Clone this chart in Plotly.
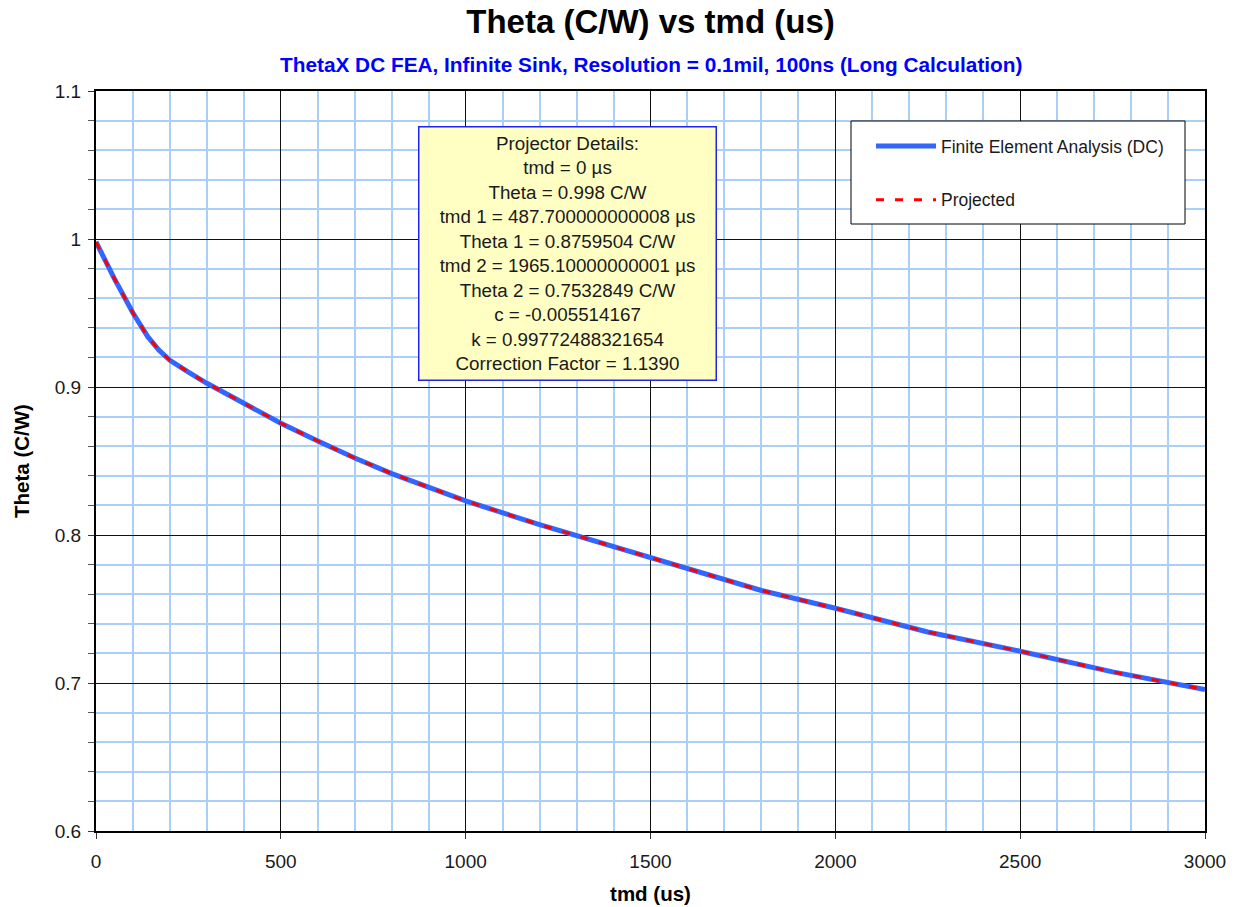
import plotly.graph_objects as go

# Thermal impedance curve: tmd (us) vs Theta (C/W)
tmd_us = [0, 50, 100, 140, 170, 200, 250, 300, 400, 500, 600, 700, 800, 900,
          1000, 1200, 1400, 1600, 1800, 2000, 2250, 2500, 2750, 3000]
theta_fea = [0.998, 0.973, 0.950, 0.934, 0.925, 0.918, 0.910, 0.9025, 0.889,
             0.8755, 0.8635, 0.852, 0.8415, 0.832, 0.823, 0.807, 0.792, 0.777,
             0.7625, 0.7505, 0.7345, 0.7215, 0.7075, 0.6955]
theta_projected = [0.998, 0.973, 0.950, 0.934, 0.925, 0.918, 0.910, 0.9025, 0.889,
                   0.8755, 0.8635, 0.852, 0.8415, 0.832, 0.823, 0.807, 0.792, 0.777,
                   0.7625, 0.7505, 0.7345, 0.7215, 0.7075, 0.6955]

series_names = ["Finite Element Analysis (DC)", "Projected"]

y_tick_labels = ["0.6", "0.7", "0.8", "0.9", "1", "1.1"]

projector_lines = [
    "Projector Details:",
    "tmd = 0 \u00b5s",
    "Theta = 0.998 C/W",
    "tmd 1 = 487.700000000008 \u00b5s",
    "Theta 1 = 0.8759504 C/W",
    "tmd 2 = 1965.10000000001 \u00b5s",
    "Theta 2 = 0.7532849 C/W",
    "c = -0.005514167",
    "k = 0.99772488321654",
    "Correction Factor = 1.1390",
]

FONT = "Liberation Sans, Arial, sans-serif"
W, H = 1237, 907
ML, MR, MT, MB = 96, 32, 91, 76
PW, PH = W - ML - MR, H - MT - MB


def px_x(p):
    return (p - ML) / PW


def px_y(p):
    return (H - MB - p) / PH


# minor grid positions that do not coincide with the major grid
x_minor = [v for v in range(0, 3001, 100) if v % 500 != 0]
y_minor = [round(0.6 + 0.02 * i, 2) for i in range(26) if i % 5 != 0]
y_major = [round(0.6 + 0.1 * i, 1) for i in range(6)]

fig = go.Figure()
fig.add_trace(go.Scatter(
    x=tmd_us, y=theta_fea, mode="lines", name=series_names[0],
    line=dict(color="#3366FF", width=5), legendgroup="a",
))
fig.add_trace(go.Scatter(
    x=tmd_us, y=theta_projected, mode="lines", name=series_names[1],
    line=dict(color="#FF0000", width=3, dash="8px,11px"), legendgroup="b",
))

fig.update_layout(
    width=W, height=H,
    margin=dict(l=ML, r=MR, t=MT, b=MB, autoexpand=False),
    paper_bgcolor="white", plot_bgcolor="white",
    font=dict(family=FONT, color="#1a1a1a"),
    title=dict(
        text="<b>Theta (C/W) vs tmd (us)</b>",
        font=dict(size=33, color="black", family=FONT),
        x=0.5, xref="paper", xanchor="center",
        y=1 - 21 / H, yref="container", yanchor="middle",
    ),
    showlegend=True,
    legend=dict(
        x=px_x(871), y=px_y(128), xanchor="left", yanchor="top",
        bgcolor="rgba(0,0,0,0)", borderwidth=0,
        font=dict(size=17.5, family=FONT, color="#1a1a1a"),
        traceorder="grouped", tracegroupgap=28, itemwidth=60,
    ),
)

fig.update_xaxes(
    range=[0, 3000], dtick=500, tick0=0,
    showgrid=True, gridcolor="#111111", gridwidth=1.2,
    showline=True, linecolor="black", linewidth=2, mirror=True,
    ticks="outside", ticklen=6, tickcolor="#333333",
    tickfont=dict(size=19, family=FONT, color="#1a1a1a"),
    ticklabelstandoff=6,
    zeroline=False,
    minor=dict(tickvals=x_minor, showgrid=True, gridcolor="#AAD0F8", gridwidth=1.5, ticks=""),
    title=dict(text="<b>tmd (us)</b>", font=dict(size=20.5, family=FONT, color="black"), standoff=16),
)
fig.update_yaxes(
    range=[0.6, 1.1],
    tickvals=y_major, ticktext=y_tick_labels,
    showgrid=True, gridcolor="#111111", gridwidth=1.2,
    showline=True, linecolor="black", linewidth=2, mirror=True,
    ticks="outside", ticklen=6, tickcolor="#333333",
    tickfont=dict(size=19, family=FONT, color="#1a1a1a"),
    ticklabelstandoff=3,
    zeroline=False,
    minor=dict(tickvals=y_minor, showgrid=True, gridcolor="#AAD0F8", gridwidth=1.5,
               ticks="outside", ticklen=6, tickcolor="#555555"),
    title=dict(text="<b>Theta (C/W)</b>", font=dict(size=20.5, family=FONT, color="black"), standoff=20),
)

# Subtitle
fig.add_annotation(
    text="<b>ThetaX DC FEA, Infinite Sink, Resolution = 0.1mil, 100ns (Long Calculation)</b>",
    xref="paper", yref="paper", x=0.5, y=px_y(64), xanchor="center", yanchor="middle",
    showarrow=False, font=dict(size=20.8, family=FONT, color="#0000FF"),
)

# Legend frame
fig.add_shape(
    type="rect", xref="paper", yref="paper",
    x0=px_x(851), x1=px_x(1185), y0=px_y(224), y1=px_y(121),
    line=dict(color="black", width=1), fillcolor="white", layer="above",
)

# Projector details box
fig.add_annotation(
    text="<br>".join(projector_lines),
    xref="paper", yref="paper", x=px_x(567), y=px_y(254),
    xanchor="center", yanchor="middle", showarrow=False,
    width=294, height=250, align="center",
    bgcolor="#FFFFC4", bordercolor="#2222EE", borderwidth=1.5, borderpad=1,
    font=dict(size=18.8, family=FONT, color="#1a1a1a"),
)

fig.write_html("out.html")
